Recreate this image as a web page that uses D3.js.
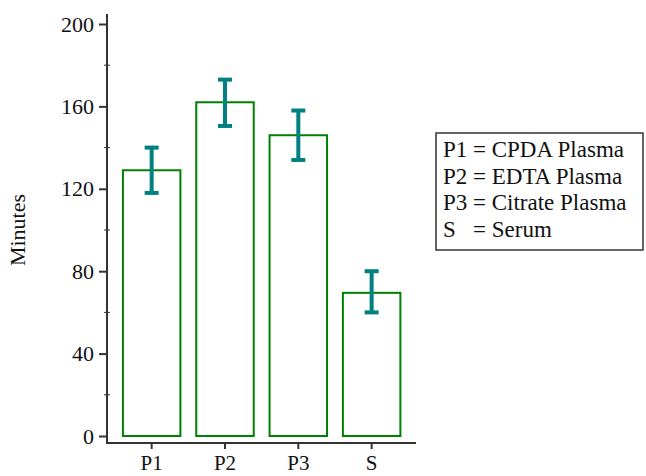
<!DOCTYPE html>
<html><head><meta charset="utf-8">
<script src="https://cdn.jsdelivr.net/npm/d3@7"></script>
<style>body{margin:0;background:#fff}svg{display:block}svg text{font-family:"Liberation Serif"}</style>
</head><body>
<script>
const categories = ["P1","P2","P3","S"];
const means = [129, 162, 146, 69.5];
const errUpper = [140, 173, 158, 80];
const errLower = [118, 150.5, 134, 60];
const yTicks = [0,40,80,120,160,200];
const yMinorTicks = [20,60,100,140,180];
const legendKeys = ["P1","P2","P3","S"];
const legendNames = ["= CPDA Plasma","= EDTA Plasma","= Citrate Plasma","= Serum"];

const FONT='Liberation Serif';
const FS=22;
const W=646,H=476;
const svg=d3.select("body").append("svg").attr("width",W).attr("height",H)
  .attr("font-family",FONT).attr("font-size",FS);
const y=d3.scaleLinear().domain([0,200]).range([436,24]);
const x=d3.scaleBand().domain(categories).range([115,408.3]).paddingInner(0.216).paddingOuter(0.108);

function serif(sel,size){ return sel.attr("font-family",FONT).style("font-family",'"Liberation Serif"').attr("font-size",size).attr("fill","#111"); }

// y axis
const yAx=svg.append("g").attr("transform","translate(107,0)")
 .call(d3.axisLeft(y).tickValues(yTicks).tickSize(8).tickSizeOuter(0).tickPadding(5));
yAx.attr("font-family",FONT).attr("font-size",FS);
yAx.select(".domain").remove();
yAx.selectAll("line").attr("stroke","#333").attr("stroke-width",2);
serif(yAx.selectAll("text"),FS).attr("dy","0.32em");
svg.append("g").selectAll("line").data(yMinorTicks).join("line")
 .attr("x1",104).attr("x2",110).attr("y1",d=>y(d)).attr("y2",d=>y(d)).attr("stroke","#333").attr("stroke-width",1);
svg.append("line").attr("x1",107).attr("x2",107).attr("y1",14).attr("y2",444).attr("stroke","#333").attr("stroke-width",2);

// x axis
const xAx=svg.append("g").attr("transform","translate(0,443)")
 .call(d3.axisBottom(x).tickSize(6).tickSizeOuter(0).tickPadding(6));
xAx.attr("font-family",FONT).attr("font-size",FS);
xAx.select(".domain").remove();
xAx.selectAll("line").attr("stroke","#333").attr("stroke-width",2);
serif(xAx.selectAll("text"),21).attr("dy","0.71em");
svg.append("line").attr("x1",106).attr("x2",416).attr("y1",443).attr("y2",443).attr("stroke","#333").attr("stroke-width",2);

// bars
svg.append("g").selectAll("rect").data(categories).join("rect")
 .attr("x",d=>x(d)).attr("width",x.bandwidth())
 .attr("y",(d,i)=>y(means[i])).attr("height",(d,i)=>y(0)-y(means[i]))
 .attr("fill","none").attr("stroke","#008000").attr("stroke-width",2);

// error bars
const eg=svg.append("g").attr("stroke","#008080").attr("stroke-width",4);
categories.forEach((c,i)=>{
  const cx=x(c)+x.bandwidth()/2;
  eg.append("line").attr("x1",cx).attr("x2",cx).attr("y1",y(errUpper[i])).attr("y2",y(errLower[i]));
  eg.append("line").attr("x1",cx-7).attr("x2",cx+7).attr("y1",y(errUpper[i])).attr("y2",y(errUpper[i]));
  eg.append("line").attr("x1",cx-7).attr("x2",cx+7).attr("y1",y(errLower[i])).attr("y2",y(errLower[i]));
});

// y label
serif(svg.append("text").attr("transform","translate(25,230) rotate(-90)").attr("text-anchor","middle"),FS).text("Minutes");

// legend
svg.append("rect").attr("x",436).attr("y",133).attr("width",207).attr("height",117)
 .attr("fill","none").attr("stroke","#333").attr("stroke-width",1.5);
const lg=svg.append("g");
legendKeys.forEach((k,i)=>{
  serif(lg.append("text").attr("x",443).attr("y",157+i*26.5),23).text(k);
  serif(lg.append("text").attr("x",473).attr("y",157+i*26.5),23).text(legendNames[i]);
});
</script>
</body></html>
